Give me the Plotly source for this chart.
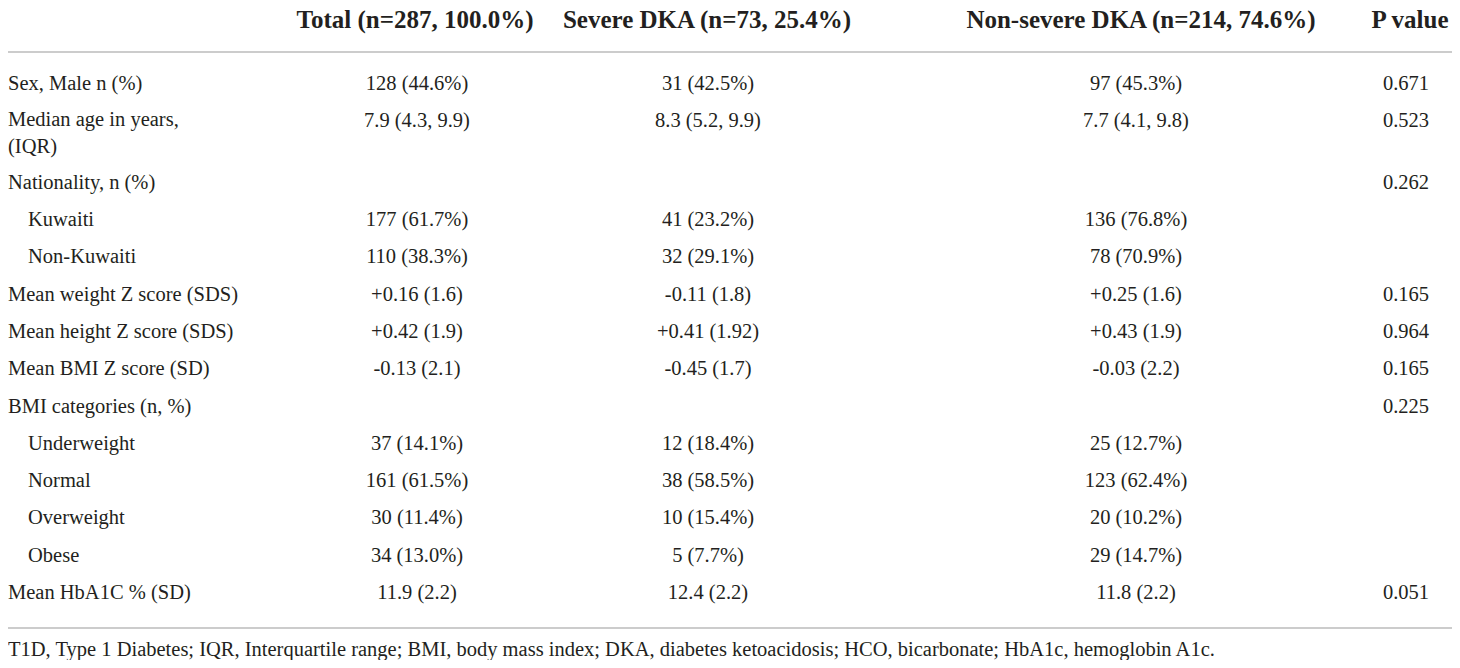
import plotly.graph_objects as go

# Table content
headers = [
    "Total (n=287, 100.0%)",
    "Severe DKA (n=73, 25.4%)",
    "Non-severe DKA (n=214, 74.6%)",
    "P value",
]
labels = [
    "Sex, Male n (%)",
    "Median age in years,<br>(IQR)",
    "Nationality, n (%)",
    "Kuwaiti",
    "Non-Kuwaiti",
    "Mean weight Z score (SDS)",
    "Mean height Z score (SDS)",
    "Mean BMI Z score (SD)",
    "BMI categories (n, %)",
    "Underweight",
    "Normal",
    "Overweight",
    "Obese",
    "Mean HbA1C % (SD)",
]
sub_rows = [False, False, False, True, True, False, False, False, False, True, True, True, True, False]
total = [
    "128 (44.6%)", "7.9 (4.3, 9.9)", "", "177 (61.7%)", "110 (38.3%)",
    "+0.16 (1.6)", "+0.42 (1.9)", "-0.13 (2.1)", "",
    "37 (14.1%)", "161 (61.5%)", "30 (11.4%)", "34 (13.0%)", "11.9 (2.2)",
]
severe = [
    "31 (42.5%)", "8.3 (5.2, 9.9)", "", "41 (23.2%)", "32 (29.1%)",
    "-0.11 (1.8)", "+0.41 (1.92)", "-0.45 (1.7)", "",
    "12 (18.4%)", "38 (58.5%)", "10 (15.4%)", "5 (7.7%)", "12.4 (2.2)",
]
non_severe = [
    "97 (45.3%)", "7.7 (4.1, 9.8)", "", "136 (76.8%)", "78 (70.9%)",
    "+0.25 (1.6)", "+0.43 (1.9)", "-0.03 (2.2)", "",
    "25 (12.7%)", "123 (62.4%)", "20 (10.2%)", "29 (14.7%)", "11.8 (2.2)",
]
p_values = ["0.671", "0.523", "0.262", "", "", "0.165", "0.964", "0.165", "0.225", "", "", "", "", "0.051"]
footnote = (
    "T1D, Type 1 Diabetes; IQR, Interquartile range; BMI, body mass index; "
    "DKA, diabetes ketoacidosis; HCO, bicarbonate; HbA1c, hemoglobin A1c."
)

# Page is 1460x668 and the browser body has an 8px margin on every side, so
# the figure is shrunk to fit and the axes are offset -> data units == page px.
PAGE_W, PAGE_H, BODY_MARGIN = 1460, 668, 8
FONT = "Liberation Serif"
INK = "#231f20"
RULE = "#cccccc"

HEADER_X = [415, 707, 1141, 1410]
VALUE_X = [417, 708, 1136, 1406]
LABEL_X, INDENT_X = 8, 28
HEADER_Y, TOP_RULE_Y, BOTTOM_RULE_Y, FOOT_Y = 22, 52, 628, 651
FIRST_ROW_Y, ROW_STEP, LINE_H = 85, 37.3, 24

# Row positions (first text line of each row)
row_y = []
y = FIRST_ROW_Y
for lab in labels:
    row_y.append(y)
    y += ROW_STEP + LINE_H * lab.count("<br>")
label_y = [ry + LINE_H * lab.count("<br>") / 2 for ry, lab in zip(row_y, labels)]

body_font = dict(family=FONT, size=20.5, color=INK)
fig = go.Figure()

# Header
fig.add_trace(
    go.Scatter(
        x=HEADER_X,
        y=[HEADER_Y] * len(headers),
        mode="text",
        text=headers,
        textposition="middle center",
        textfont=dict(family=FONT, size=25, color=INK, weight="bold"),
        cliponaxis=False,
    )
)

# Row labels
fig.add_trace(
    go.Scatter(
        x=[INDENT_X if s else LABEL_X for s in sub_rows],
        y=label_y,
        mode="text",
        text=labels,
        textposition="middle right",
        textfont=body_font,
        cliponaxis=False,
    )
)

# Values
for x, col in zip(VALUE_X, [total, severe, non_severe, p_values]):
    fig.add_trace(
        go.Scatter(
            x=[x] * len(col),
            y=row_y,
            mode="text",
            text=col,
            textposition="middle center",
            textfont=body_font,
            cliponaxis=False,
        )
    )

# Footnote
fig.add_trace(
    go.Scatter(
        x=[LABEL_X],
        y=[FOOT_Y],
        mode="text",
        text=[footnote],
        textposition="middle right",
        textfont=dict(family=FONT, size=20.5, color=INK),
        cliponaxis=False,
    )
)

# Rules
for ry in (TOP_RULE_Y, BOTTOM_RULE_Y):
    fig.add_shape(
        type="line", x0=BODY_MARGIN, x1=PAGE_W - BODY_MARGIN, y0=ry, y1=ry,
        xref="x", yref="y", line=dict(color=RULE, width=2),
    )

fig.update_layout(
    width=PAGE_W - 2 * BODY_MARGIN,
    height=PAGE_H - 2 * BODY_MARGIN,
    margin=dict(l=0, r=0, t=0, b=0),
    paper_bgcolor="white",
    plot_bgcolor="white",
    showlegend=False,
    hovermode=False,
    xaxis=dict(range=[BODY_MARGIN, PAGE_W - BODY_MARGIN], visible=False, fixedrange=True),
    yaxis=dict(range=[PAGE_H - BODY_MARGIN, BODY_MARGIN], visible=False, fixedrange=True),
)

fig.write_html("out.html")
